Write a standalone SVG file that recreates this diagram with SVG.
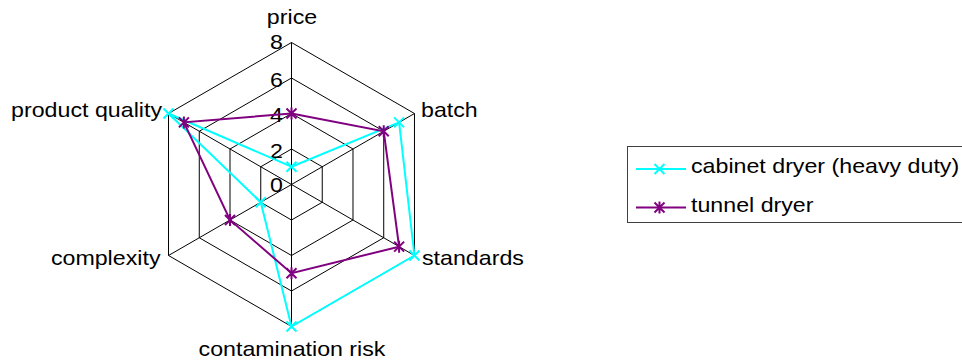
<svg xmlns="http://www.w3.org/2000/svg" xmlns:xlink="http://www.w3.org/1999/xlink" width="962" height="362" viewBox="0 0 962 362">
<style>
text{font-family:"Liberation Sans",Arial,sans-serif;font-size:21px;fill:#000}
.grid{fill:none;stroke:#000;stroke-width:1}
.cy{fill:none;stroke:#00FFFF;stroke-width:2}
.pu{fill:none;stroke:#800080;stroke-width:2}
</style>
<defs>
<g id="mx"><path d="M-5,-5L5,5M-5,5L5,-5" stroke="#00FFFF" stroke-width="2" fill="none"/></g>
<g id="ms"><path d="M-5,-5L5,5M-5,5L5,-5M0,-6L0,6" stroke="#800080" stroke-width="2" fill="none"/></g>
</defs>
<rect width="962" height="362" fill="#fff"/>
<g id="grid">
<polygon class="grid" points="291.5,42.5 414.47,113.5 414.47,255.5 291.5,326.5 168.53,255.5 168.53,113.5"/>
<polygon class="grid" points="291.5,78 383.73,131.25 383.73,237.75 291.5,291 199.27,237.75 199.27,131.25"/>
<polygon class="grid" points="291.5,113.5 352.99,149 352.99,220 291.5,255.5 230.01,220 230.01,149"/>
<polygon class="grid" points="291.5,149 322.24,166.75 322.24,202.25 291.5,220 260.76,202.25 260.76,166.75"/>
<path class="grid" d="M291.5,184.5L291.5,42.5M291.5,184.5L414.47,113.5M291.5,184.5L414.47,255.5M291.5,184.5L291.5,326.5M291.5,184.5L168.53,255.5M291.5,184.5L168.53,113.5"/>
</g>
<g id="axis-labels">
<text x="283" y="48.5" text-anchor="end" textLength="12.9" lengthAdjust="spacingAndGlyphs">8</text>
<text x="283" y="86.5" text-anchor="end" textLength="12.9" lengthAdjust="spacingAndGlyphs">6</text>
<text x="283" y="122" text-anchor="end" textLength="12.9" lengthAdjust="spacingAndGlyphs">4</text>
<text x="283" y="158.3" text-anchor="end" textLength="12.9" lengthAdjust="spacingAndGlyphs">2</text>
<text x="283" y="191.7" text-anchor="end" textLength="12.9" lengthAdjust="spacingAndGlyphs">0</text>
</g>
<g id="cat-price"><text x="292" y="24" text-anchor="middle" textLength="50.3" lengthAdjust="spacingAndGlyphs">price</text></g>
<g id="cat-batch"><text x="421" y="117.3" textLength="56.7" lengthAdjust="spacingAndGlyphs">batch</text></g>
<g id="cat-standards"><text x="422" y="265" textLength="101.9" lengthAdjust="spacingAndGlyphs">standards</text></g>
<g id="cat-contamination"><text x="292" y="356" text-anchor="middle" textLength="186.9" lengthAdjust="spacingAndGlyphs">contamination risk</text></g>
<g id="cat-complexity"><text x="160.5" y="265" text-anchor="end" textLength="109.6" lengthAdjust="spacingAndGlyphs">complexity</text></g>
<g id="cat-quality"><text x="162" y="116.7" text-anchor="end" textLength="150.9" lengthAdjust="spacingAndGlyphs">product quality</text></g>
<g id="series-cabinet">
<polygon class="cy" points="291.5,166.75 399.1,122.375 414.47,255.5 291.5,326.5 260.76,202.25 168.53,113.5"/>
<use xlink:href="#mx" x="291.5" y="166.75"/>
<use xlink:href="#mx" x="399.1" y="122.375"/>
<use xlink:href="#mx" x="414.47" y="255.5"/>
<use xlink:href="#mx" x="291.5" y="326.5"/>
<use xlink:href="#mx" x="260.76" y="202.25"/>
<use xlink:href="#mx" x="168.53" y="113.5"/>
</g>
<g id="series-tunnel">
<polygon class="pu" points="291.5,113.5 383.73,131.25 399.1,246.625 291.5,273.25 230.01,220 183.9,122.375"/>
<use xlink:href="#ms" x="291.5" y="113.5"/>
<use xlink:href="#ms" x="383.73" y="131.25"/>
<use xlink:href="#ms" x="399.1" y="246.625"/>
<use xlink:href="#ms" x="291.5" y="273.25"/>
<use xlink:href="#ms" x="230.01" y="220"/>
<use xlink:href="#ms" x="183.9" y="122.375"/>
</g>
<g id="legend">
<rect x="627.5" y="146.5" width="345" height="76" fill="#fff" stroke="#404040" stroke-width="1"/>
<line class="cy" x1="636" y1="169" x2="686" y2="169"/>
<use xlink:href="#mx" x="659.5" y="169"/>
<text x="691" y="173.3" textLength="268.2" lengthAdjust="spacingAndGlyphs">cabinet dryer (heavy duty)</text>
<line class="pu" x1="636" y1="207.5" x2="686" y2="207.5"/>
<use xlink:href="#ms" x="659.5" y="207.5"/>
<text x="691" y="211.7" textLength="122.5" lengthAdjust="spacingAndGlyphs">tunnel dryer</text>
</g>
</svg>
